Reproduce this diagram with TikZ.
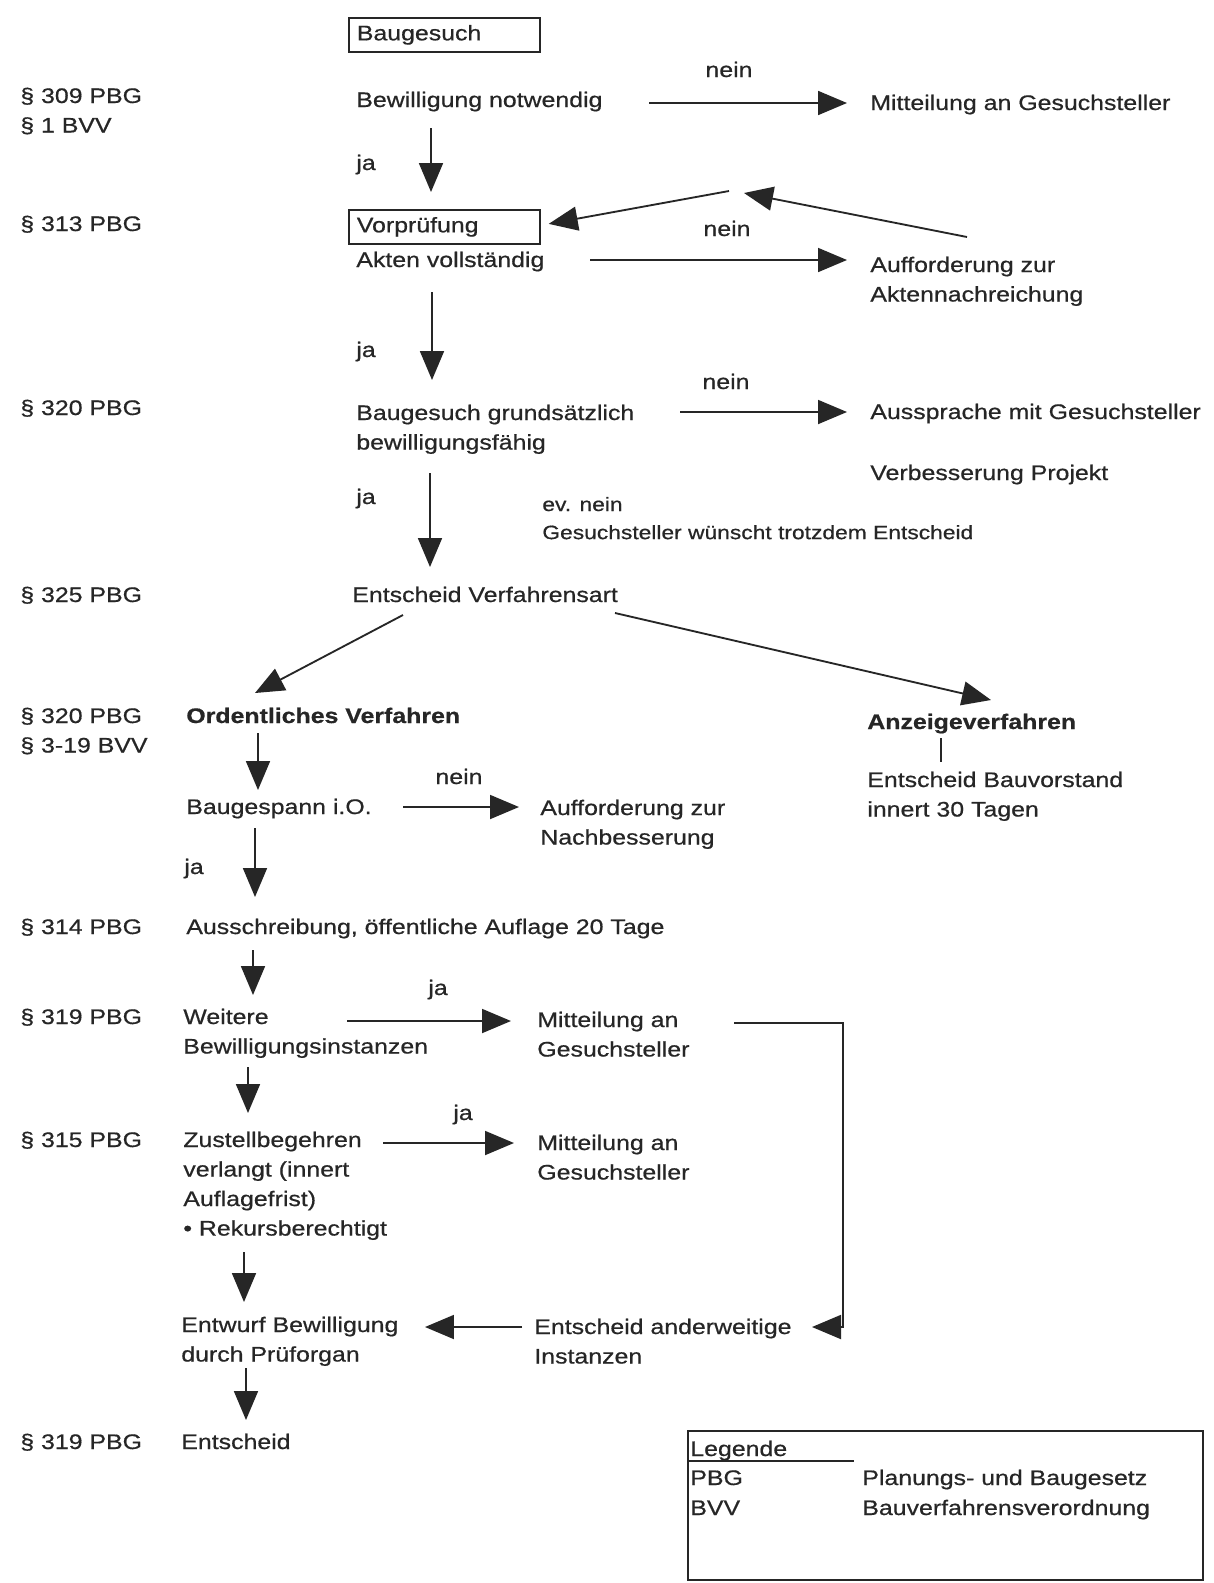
\documentclass[tikz,border=0pt]{standalone}
\usepackage{fontspec}
\setmainfont{Liberation Sans}[FakeStretch=1.18, FakeBold=0.6]
\usetikzlibrary{arrows.meta}
\definecolor{ink}{rgb}{0.15,0.15,0.15}
\newcommand{\zeilen}[1]{\begin{tabular}[t]{@{}l@{}}#1\end{tabular}}
\tikzset{
  txt/.style={anchor=base west, inner sep=0pt, text=ink, font=\fontsize{12}{16.8}\selectfont},
  mid/.style={txt, anchor=base},
  fett/.style={txt, font=\fontsize{12}{16.8}\selectfont\bfseries},
  klein/.style={txt, font=\fontsize{11}{16}\selectfont},
  kasten/.style={draw=ink, line width=1pt, anchor=north west, inner xsep=0.16cm, inner ysep=0pt, text width=3.5cm, minimum height=0.68cm, align=left, text=ink, font=\fontsize{12}{16.8}\selectfont},
  pfeil/.style={draw=ink, line width=1.05pt, -{Triangle[length=0.58cm, width=0.48cm]}},
  linie/.style={draw=ink, line width=1.05pt}
}
\begin{document}
\begin{tikzpicture}[x=0.02cm, y=-0.02cm]
\fill[white] (0,0) rectangle (1214,1583);
\useasboundingbox (0,0) rectangle (1214,1583);
\node[txt] (l309) at (20,103) {\zeilen{§ 309 PBG\\§ 1 BVV}};
\node[txt] (l320b) at (20,723) {\zeilen{§ 320 PBG\\§ 3-19 BVV}};
\foreach \name/\y/\n in {l313/231/313, l320a/415/320, l325/602/325, l314/934/314, l319a/1024/319, l315/1147/315, l319b/1449/319}
  \node[txt] (\name) at (20,\y) {§ \n{} PBG};
\node[kasten] (baugesuch) at (348,17) {Baugesuch};
\node[txt] (notwendig) at (356,107) {Bewilligung notwendig};
\node[txt] (mitteilungA) at (870,110) {Mitteilung an Gesuchsteller};
\node[kasten] (vorpruefung) at (348,209) {Vorprüfung};
\node[txt] (vollstaendig) at (356,267) {Akten vollständig};
\node[txt] (aufforderungA) at (870,272) {\zeilen{Aufforderung zur\\Aktennachreichung}};
\node[txt] (grundsaetzlich) at (356,420) {\zeilen{Baugesuch grundsätzlich\\bewilligungsfähig}};
\node[txt] (aussprache) at (870,419) {Aussprache mit Gesuchsteller};
\node[txt] (verbesserung) at (870,480) {Verbesserung Projekt};
\node[klein] (evnein) at (542,511) {\zeilen{ev. nein\\Gesuchsteller wünscht trotzdem Entscheid}};
\node[txt] (verfahrensart) at (352,602) {Entscheid Verfahrensart};
\node[fett] (ordentlich) at (186,723) {Ordentliches Verfahren};
\node[fett] (anzeige) at (867,729) {Anzeigeverfahren};
\node[txt] (bauvorstand) at (867,787) {\zeilen{Entscheid Bauvorstand\\innert 30 Tagen}};
\node[txt] (baugespann) at (186,814) {Baugespann i.O.};
\node[txt] (aufforderungB) at (540,815) {\zeilen{Aufforderung zur\\Nachbesserung}};
\node[txt] (ausschreibung) at (186,934) {Ausschreibung, öffentliche Auflage 20 Tage};
\node[txt] (weitere) at (183,1024) {\zeilen{Weitere\\Bewilligungsinstanzen}};
\node[txt] (mitteilungB) at (537,1027) {\zeilen{Mitteilung an\\Gesuchsteller}};
\node[txt] (zustell) at (183,1147) {\zeilen{Zustellbegehren\\verlangt (innert\\Auflagefrist)\\• Rekursberechtigt}};
\node[txt] (mitteilungC) at (537,1150) {\zeilen{Mitteilung an\\Gesuchsteller}};
\node[txt] (entwurf) at (181,1332) {\zeilen{Entwurf Bewilligung\\durch Prüforgan}};
\node[txt] (anderweitig) at (534,1334) {\zeilen{Entscheid anderweitige\\Instanzen}};
\node[txt] (entscheid) at (181,1449) {Entscheid};
\foreach \name/\x/\y in {ja1/356/170, ja2/356/357, ja3/356/504, ja4/184/874, ja5/428/995, ja6/453/1120}
  \node[txt] (\name) at (\x,\y) {ja};
\foreach \name/\x/\y in {nein1/729/77, nein2/727/236, nein3/726/389, nein4/459/784}
  \node[mid] (\name) at (\x,\y) {nein};
\coordinate (knick) at (744,193);
\coordinate (rechts) at (843,1023);
\draw[pfeil] ([shift={(293,-4)}]notwendig.base west) -- ([shift={(-23,-7)}]mitteilungA.base west);
\draw[pfeil] ([shift={(75,21)}]notwendig.base west) -- ([shift={(83,-17)}]vorpruefung.north west);
\draw[pfeil] ([shift={(234,-7)}]vollstaendig.base west) -- ([shift={(-23,-12)}]aufforderungA.base west);
\draw[pfeil] ([shift={(97,-35)}]aufforderungA.base west) -- (knick);
\draw[pfeil] ([shift={(-15,-2)}]knick) -- ([shift={(8,-3)}]vorpruefung.east);
\draw[pfeil] ([shift={(76,25)}]vollstaendig.base west) -- ([shift={(76,-40)}]grundsaetzlich.base west);
\draw[pfeil] ([shift={(324,-8)}]grundsaetzlich.base west) -- ([shift={(-23,-7)}]aussprache.base west);
\draw[pfeil] ([shift={(74,53)}]grundsaetzlich.base west) -- ([shift={(78,-35)}]verfahrensart.base west);
\draw[pfeil] ([shift={(51,13)}]verfahrensart.base west) -- ([shift={(69,-30)}]ordentlich.base west);
\draw[pfeil] ([shift={(263,11)}]verfahrensart.base west) -- ([shift={(124,-29)}]anzeige.base west);
\draw[linie] ([shift={(74,9)}]anzeige.base west) -- ([shift={(74,-25)}]bauvorstand.base west);
\draw[pfeil] ([shift={(72,10)}]ordentlich.base west) -- ([shift={(72,-24)}]baugespann.base west);
\draw[pfeil] ([shift={(217,-7)}]baugespann.base west) -- ([shift={(-21,-8)}]aufforderungB.base west);
\draw[pfeil] ([shift={(69,14)}]baugespann.base west) -- ([shift={(69,-37)}]ausschreibung.base west);
\draw[pfeil] ([shift={(67,16)}]ausschreibung.base west) -- ([shift={(70,-29)}]weitere.base west);
\draw[pfeil] ([shift={(164,-3)}]weitere.base west) -- ([shift={(-26,-6)}]mitteilungB.base west);
\draw[pfeil] ([shift={(65,43)}]weitere.base west) -- ([shift={(65,-34)}]zustell.base west);
\draw[pfeil] ([shift={(200,-4)}]zustell.base west) -- ([shift={(-23,-7)}]mitteilungC.base west);
\draw[pfeil] ([shift={(61,105)}]zustell.base west) -- ([shift={(63,-30)}]entwurf.base west);
\draw[pfeil] ([shift={(197,-4)}]mitteilungB.base west) -- (rechts) |- ([shift={(278,-7)}]anderweitig.base west);
\draw[pfeil] ([shift={(-12,-7)}]anderweitig.base west) -- ([shift={(244,-5)}]entwurf.base west);
\draw[pfeil] ([shift={(65,36)}]entwurf.base west) -- ([shift={(65,-29)}]entscheid.base west);
\draw[linie] (688,1431) rectangle (1203,1580);
\draw[linie] (688,1461) -- (854,1461);
\node[txt] (legende) at (690,1456) {Legende};
\node[txt] (pbg) at (690,1485) {PBG};
\node[txt] (bvv) at (690,1515) {BVV};
\node[txt] (pbgtext) at (862,1485) {Planungs- und Baugesetz};
\node[txt] (bvvtext) at (862,1515) {Bauverfahrensverordnung};
\end{tikzpicture}
\end{document}
